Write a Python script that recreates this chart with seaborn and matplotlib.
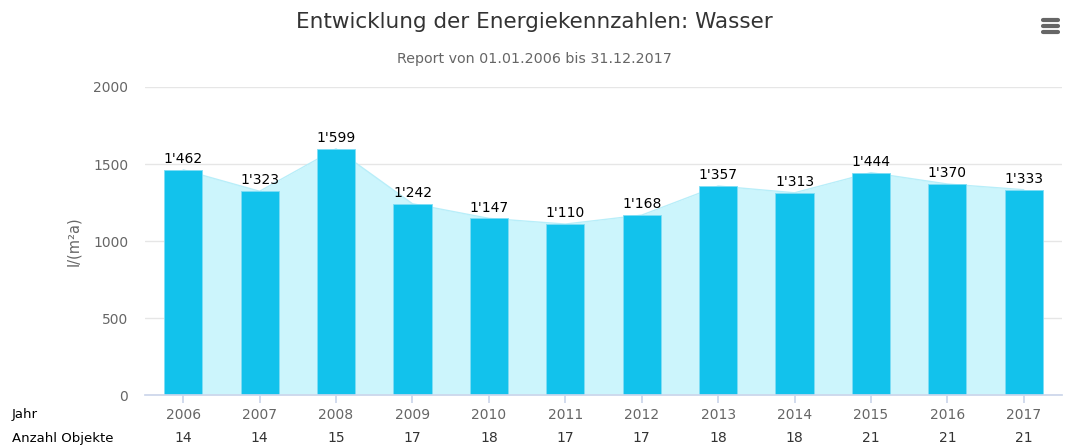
import numpy as np
import pandas as pd
import matplotlib
matplotlib.use("Agg")
import matplotlib.pyplot as plt
import seaborn as sns
from matplotlib.lines import Line2D

# data
jahre = ['2006', '2007', '2008', '2009', '2010', '2011',
         '2012', '2013', '2014', '2015', '2016', '2017']
wasser = [1462, 1323, 1599, 1242, 1147, 1110, 1168, 1357, 1313, 1444, 1370, 1333]
anzahl = [14, 14, 15, 17, 18, 17, 17, 18, 18, 21, 21, 21]
y_ticks = [0, 500, 1000, 1500, 2000]

df = pd.DataFrame({'Jahr': jahre, 'Wasser': wasser})

sns.set_theme(style='white')
plt.rcParams['font.family'] = ['DejaVu Sans']

fig = plt.figure(figsize=(10.68, 4.48), dpi=100)
ax = fig.add_axes([145/1068, 53/448, 917/1068, 308/448])

bar_col = '#12C2EC'
area_col = '#CCF5FC'

# area behind the bars
x = np.arange(len(jahre))
ax.fill_between(x, wasser, 0, color=area_col, zorder=1, lw=0)
ax.plot(x, wasser, color='#B8EEF9', lw=1, zorder=1.5)

sns.barplot(data=df, x='Jahr', y='Wasser', color=bar_col, width=0.5,
            saturation=1, ax=ax, zorder=2, edgecolor='#7FDDF5', linewidth=0.6)

for i, v in enumerate(wasser):
    lab = f"{v:,}".replace(',', "'")
    ax.text(i, v + 25, lab, ha='center', va='bottom', fontsize=10, color='#000000', zorder=3)

ax.set_xlim(-0.5, len(jahre) - 0.5)
ax.set_ylim(0, 2000)
ax.set_yticks(y_ticks)
ax.set_yticklabels([str(t) for t in y_ticks], fontsize=10, color='#666666')
ax.yaxis.grid(True, color='#E6E6E6', lw=1)
ax.set_axisbelow(True)
for s in ['top', 'right', 'left']:
    ax.spines[s].set_visible(False)
ax.spines['bottom'].set_color('#CCD6EB')
ax.tick_params(axis='y', length=0, pad=12)
ax.tick_params(axis='x', length=6, color='#CCD6EB', labelsize=10, labelcolor='#666666', pad=3,
               bottom=True)
ax.set_xlabel('')
ax.set_ylabel('l/(m²a)', fontsize=10.5, color='#666666', labelpad=9)

# second row under the axis
for i, n in enumerate(anzahl):
    ax.text(i, -0.14, str(n), transform=ax.get_xaxis_transform(), ha='center', va='center',
            fontsize=10, color='#333333')
fig.text(12/1068, 1 - 414/448, 'Jahr', ha='left', va='center', fontsize=9.5, color='#000000')
fig.text(12/1068, 1 - 438/448, 'Anzahl Objekte', ha='left', va='center', fontsize=9.5, color='#000000')

fig.text(0.5, 1 - 22/448, 'Entwicklung der Energiekennzahlen: Wasser', ha='center', va='center',
         fontsize=15.5, color='#333333')
fig.text(0.5, 1 - 59/448, 'Report von 01.01.2006 bis 31.12.2017', ha='center', va='center',
         fontsize=10.3, color='#666666')

# menu icon
for yy in [20, 26, 32]:
    fig.add_artist(Line2D([1043/1068, 1058/1068], [1 - yy/448, 1 - yy/448], color='#666666',
                          lw=3, solid_capstyle='round'))

fig.savefig('out.png', dpi=100)
